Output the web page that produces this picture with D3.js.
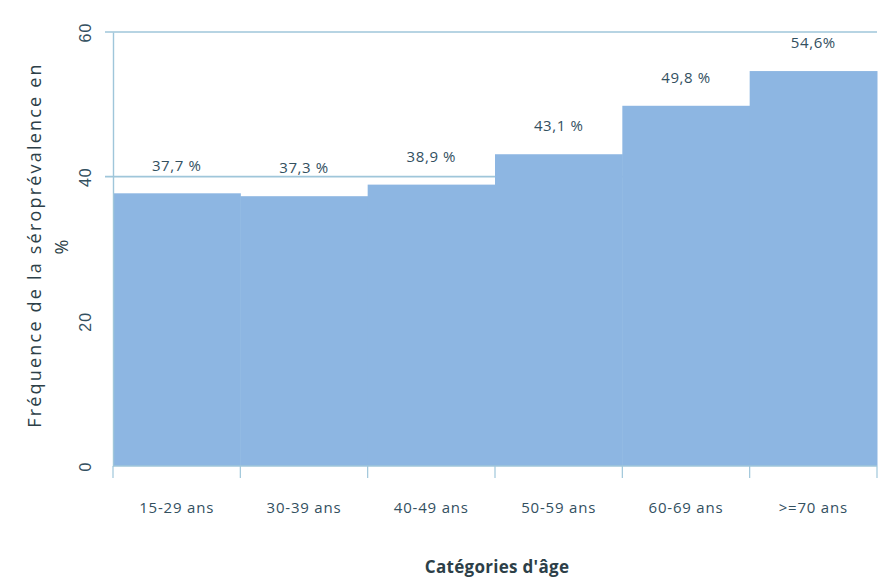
<!DOCTYPE html>
<html>
<head>
<meta charset="utf-8">
<script src="https://cdn.jsdelivr.net/npm/d3@7"></script>
<style>
  html, body { margin: 0; padding: 0; background: #ffffff; }
  svg { display: block; font-family: "Open Sans", "Noto Sans", sans-serif; }
</style>
</head>
<body>
<svg id="chart" width="878" height="581"></svg>
<script>
// Séroprévalence par catégorie d'âge
const categories = ["15-29 ans", "30-39 ans", "40-49 ans", "50-59 ans", "60-69 ans", ">=70 ans"];
const values = [37.7, 37.3, 38.9, 43.1, 49.8, 54.6];
const valueLabels = ["37,7 %", "37,3 %", "38,9 %", "43,1 %", "49,8 %", "54,6%"];
const yTicks = [0, 20, 40, 60];
const gridValues = [40, 60];

const W = 878, H = 581;
const margin = { top: 32, right: 1, bottom: 115, left: 113 };
const innerW = W - margin.left - margin.right;
const innerH = H - margin.top - margin.bottom;

const barColor = "#8db6e2";
const lineColor = "#9fc6da";
const textColor = "#33505f";

const svg = d3.select("#chart");
const g = svg.append("g").attr("transform", `translate(${margin.left},${margin.top})`);

const x = d3.scaleBand().domain(categories).range([0, innerW]).paddingInner(0).paddingOuter(0);
const y = d3.scaleLinear().domain([0, 60]).range([innerH, 0]);

// horizontal grid lines (drawn behind bars)
g.selectAll("line.grid")
  .data(gridValues)
  .join("line")
  .attr("class", "grid")
  .attr("x1", -8)
  .attr("x2", innerW)
  .attr("y1", d => y(d))
  .attr("y2", d => y(d))
  .attr("stroke", lineColor)
  .attr("stroke-width", 1.6);

// bars
g.selectAll("rect.bar")
  .data(values)
  .join("rect")
  .attr("class", "bar")
  .attr("x", (d, i) => x(categories[i]))
  .attr("width", x.bandwidth() + 0.5)
  .attr("y", d => y(d))
  .attr("height", d => innerH - y(d))
  .attr("fill", barColor);

// value labels
g.selectAll("text.val")
  .data(values)
  .join("text")
  .attr("class", "val")
  .attr("x", (d, i) => x(categories[i]) + x.bandwidth() / 2)
  .attr("y", d => y(d) - 28)
  .attr("dy", "0.35em")
  .attr("text-anchor", "middle")
  .attr("font-size", 15)
  .attr("letter-spacing", 0.6)
  .attr("fill", textColor)
  .text((d, i) => valueLabels[i]);

// y axis
const yAxis = g.append("g")
  .call(d3.axisLeft(y).tickValues(yTicks).tickSize(0).tickPadding(0));
yAxis.select(".domain").attr("stroke", lineColor).attr("stroke-width", 1.4);
yAxis.selectAll(".tick text")
  .attr("transform", "translate(-28,0) rotate(-90)")
  .attr("x", 0)
  .attr("dy", "0.35em")
  .attr("text-anchor", "middle")
  .attr("font-size", 16)
  .attr("letter-spacing", 1)
  .attr("fill", textColor);

// x axis with ticks at band boundaries
const xAxisG = g.append("g").attr("transform", `translate(0,${innerH})`);
xAxisG.append("line")
  .attr("x1", 0).attr("x2", innerW)
  .attr("stroke", lineColor).attr("stroke-width", 1.4);
const bounds = categories.map(c => x(c)).concat([innerW]);
xAxisG.selectAll("line.tick")
  .data(bounds)
  .join("line")
  .attr("class", "tick")
  .attr("x1", d => d).attr("x2", d => d)
  .attr("y1", 0).attr("y2", 12)
  .attr("stroke", lineColor).attr("stroke-width", 1.2);
xAxisG.selectAll("text")
  .data(categories)
  .join("text")
  .attr("x", d => x(d) + x.bandwidth() / 2)
  .attr("y", 42)
  .attr("dy", "0.35em")
  .attr("text-anchor", "middle")
  .attr("font-size", 15)
  .attr("letter-spacing", 0.8)
  .attr("fill", textColor)
  .text(d => d);

// axis titles
svg.append("text")
  .attr("x", 497)
  .attr("y", 567)
  .attr("text-anchor", "middle")
  .attr("dy", "0.35em")
  .attr("font-size", 17)
  .attr("font-weight", "bold")
  .attr("letter-spacing", 0.3)
  .attr("fill", "#2d3f48")
  .text("Catégories d'âge");

svg.append("text")
  .attr("transform", "translate(35,245) rotate(-90)")
  .attr("text-anchor", "middle")
  .attr("dy", "0.35em")
  .attr("font-size", 18)
  .attr("letter-spacing", 2.2)
  .attr("fill", "#2d3f48")
  .text("Fréquence de la séroprévalence en");
svg.append("text")
  .attr("transform", "translate(62,247) rotate(-90)")
  .attr("text-anchor", "middle")
  .attr("dy", "0.35em")
  .attr("font-size", 18)
  .attr("fill", "#2d3f48")
  .text("%");
</script>
</body>
</html>
